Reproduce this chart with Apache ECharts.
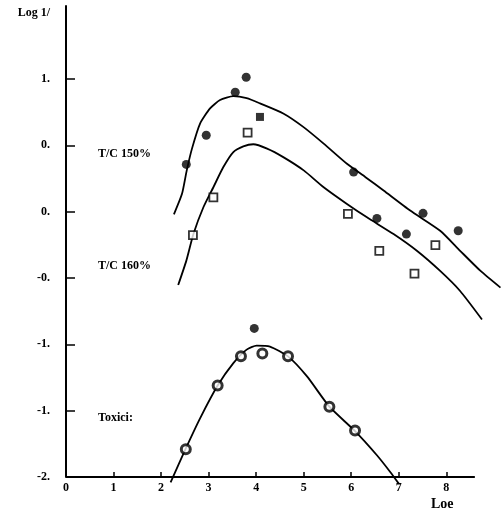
<!DOCTYPE html>
<html>
<head>
<meta charset="utf-8">
<script src="https://cdn.jsdelivr.net/npm/echarts@6/dist/echarts.min.js"></script>
<style>
html,body{margin:0;padding:0;background:#fff;}
#chart{width:501px;height:513px;}
</style>
</head>
<body>
<div id="chart"></div>
<script>
// Tick labels
var yTickValues = [-2, -1.5, -1, -0.5, 0, 0.5, 1, 1.5];
var yTickLabels = ['-2.', '-1.', '-1.', '-0.', '0.', '0.', '1.', 'Log 1/'];
var xTickValues = [0, 1, 2, 3, 4, 5, 6, 7, 8];
var xTickLabels = ['0', '1', '2', '3', '4', '5', '6', '7', '8'];

// Series labels
var seriesNames = ['T/C 150%', 'T/C 160%', 'Toxici:'];
var xAxisName = 'Loe';

// T/C 150 points (filled circles)
var tc150Points = [[2.53,0.356],[2.95,0.576],[3.56,0.90],[3.79,1.013],[6.05,0.298],[6.54,-0.051],[7.16,-0.169],[7.51,-0.013],[8.25,-0.144]];
// T/C 150 fitted curve
var tc150Curve = [[2.27,-0.02],[2.44,0.134],[2.54,0.311],[2.65,0.475],[2.82,0.664],[3.03,0.778],[3.24,0.841],[3.52,0.871],[3.8,0.855],[4.08,0.816],[4.57,0.740],[4.99,0.639],[5.42,0.513],[5.91,0.361],[6.3,0.26],[6.68,0.159],[7.24,0.008],[7.87,-0.144],[8.29,-0.295],[8.72,-0.447],[9.14,-0.573]];

// T/C 160 points (open squares) and filled square
var tc160Points = [[2.67,-0.177],[3.10,0.108],[3.82,0.596],[5.93,-0.017],[6.59,-0.295],[7.33,-0.467],[7.77,-0.252]];
var tc160Filled = [[4.08,0.714]];
// T/C 160 fitted curve
var tc160Curve = [[2.36,-0.553],[2.53,-0.371],[2.68,-0.169],[2.89,0.033],[3.10,0.184],[3.31,0.336],[3.52,0.449],[3.73,0.492],[3.94,0.508],[4.23,0.475],[4.57,0.411],[5.00,0.311],[5.42,0.184],[5.91,0.058],[6.33,-0.043],[6.89,-0.169],[7.38,-0.295],[7.87,-0.447],[8.29,-0.598],[8.75,-0.813]];

// Toxicity points (open circles) and filled circle
var toxPoints = [[2.52,-1.79],[3.19,-1.31],[3.68,-1.09],[4.13,-1.07],[4.67,-1.09],[5.54,-1.47],[6.08,-1.65]];
var toxFilled = [[3.96,-0.88]];
// Toxicity fitted curve
var toxCurve = [[2.20,-2.04],[2.52,-1.785],[2.82,-1.558],[3.19,-1.311],[3.52,-1.142],[3.80,-1.040],[4.01,-1.010],[4.29,-1.017],[4.67,-1.091],[5.07,-1.242],[5.54,-1.470],[6.08,-1.654],[6.54,-1.836],[6.82,-1.962],[7.00,-2.05]];

var FONT = 'Liberation Serif';
var chart = echarts.init(document.getElementById('chart'));

function curve(data) {
  return {type:'line', data:data, showSymbol:false, smooth:0.2, clip:false, silent:true,
    lineStyle:{color:'#000', width:1.8}, z:2};
}

var option = {
  animation:false,
  backgroundColor:'#fff',
  grid:{left:66, right:0, top:6, bottom:36},
  xAxis:{
    type:'value', min:0, max:9.15,
    axisLine:{show:false, onZero:false},
    splitLine:{show:false},
    axisTick:{show:true, inside:true, length:5, customValues:xTickValues.slice(1), lineStyle:{color:'#000', width:1.5}},
    axisLabel:{show:true, customValues:xTickValues, margin:5,
      formatter:function(v){var i=xTickValues.indexOf(v);return i>=0?xTickLabels[i]:'';},
      color:'#000', fontFamily:FONT, fontWeight:'bold', fontSize:12}
  },
  yAxis:{
    type:'value', min:-2, max:1.55, interval:0.5,
    axisLine:{show:true, onZero:false, lineStyle:{color:'#000', width:2}},
    splitLine:{show:false},
    axisTick:{show:true, inside:true, length:9, customValues:[-1.5,-1,-0.5,0,0.5,1], lineStyle:{color:'#000', width:1.5}},
    axisLabel:{show:true, customValues:yTickValues, margin:16,
      formatter:function(v){var i=yTickValues.indexOf(v);return i>=0?yTickLabels[i]:'';},
      color:'#000', fontFamily:FONT, fontWeight:'bold', fontSize:12}
  },
  graphic:[
    {type:'text', left:98, top:148, style:{text:seriesNames[0], font:'bold 12px "Liberation Serif"', fill:'#000'}},
    {type:'text', left:98, top:260, style:{text:seriesNames[1], font:'bold 12px "Liberation Serif"', fill:'#000'}},
    {type:'text', left:98, top:412, style:{text:seriesNames[2], font:'bold 12px "Liberation Serif"', fill:'#000'}},
    {type:'text', left:431, top:497, style:{text:xAxisName, font:'bold 14px "Liberation Serif"', fill:'#000'}}
  ],
  series:[
    {type:'line', data:[], silent:true,
      markLine:{silent:true, symbol:'none', label:{show:false}, lineStyle:{color:'#000', width:2, type:'solid'},
        data:[[{coord:[0,-2]},{coord:[8.6,-2]}]]}},
    curve(tc150Curve),
    curve(tc160Curve),
    curve(toxCurve),
    {type:'scatter', data:tc150Points, symbol:'circle', symbolSize:9, itemStyle:{color:'#000'}, z:3},
    {type:'scatter', data:tc160Points, symbol:'rect', symbolSize:8, itemStyle:{color:'#fff', borderColor:'#000', borderWidth:1.8}, z:3},
    {type:'scatter', data:tc160Filled, symbol:'rect', symbolSize:8, itemStyle:{color:'#000'}, z:3},
    {type:'scatter', data:toxPoints, symbol:'circle', symbolSize:9, itemStyle:{color:'#fff', borderColor:'#000', borderWidth:3}, z:3},
    {type:'scatter', data:toxFilled, symbol:'circle', symbolSize:9, itemStyle:{color:'#000'}, z:3}
  ]
};
chart.setOption(option);
</script>
</body>
</html>
